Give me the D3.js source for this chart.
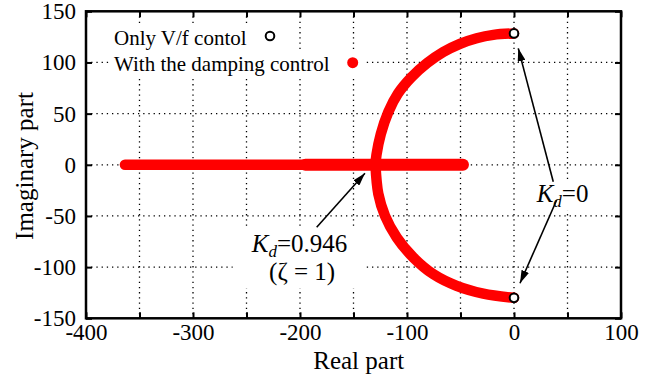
<!DOCTYPE html>
<html>
<head>
<meta charset="utf-8">
<script src="https://cdn.jsdelivr.net/npm/d3@7"></script>
<style>
body { margin: 0; background: #fff; }
svg, svg text { font-family: "Liberation Serif", "Times New Roman", serif; }
</style>
</head>
<body>
<svg width="662" height="378"></svg>
<script>
// locus points (real, imaginary)
const upperRe = [0, -19.3, -34.9, -50.5, -66.1, -81, -96, -108.5, -117.5, -124.5, -128.5, -129.5];
const upperIm = [128.4, 127, 123.7, 118.2, 110.2, 99.5, 85.4, 69.5, 51.5, 30, 10, 0];
const lowerRe = [-129.5, -126.8, -120.6, -109.6, -94.1, -75.4, -53.6, -28.7, 0];
const lowerIm = [0, -28.4, -49.7, -71, -90.6, -106.9, -118.3, -125.9, -130];
// real axis branch, split where the trace gets a bit thicker
const axisLeftRe = [-363.6, -195];
const axisRightRe = [-195, -47.7];
// open circles: Kd = 0
const startRe = [0, 0];
const startIm = [128.4, -130];

// ticks
const xTicks = [-400, -350, -300, -250, -200, -150, -100, -50, 0, 50, 100];
const yTicks = [-150, -100, -50, 0, 50, 100, 150];
const xGrid = [-350, -300, -250, -200, -150, -100, -50, 0, 50];
const yGrid = [-100, -50, 0, 50, 100];

const legendLabels = ['Only V/f contol', 'With the damping control'];

const svg = d3.select('svg');
const plot = {left: 86, top: 11.3, right: 621, bottom: 318.3};

const x = d3.scaleLinear().domain([-400, 100]).range([plot.left, plot.right]);
const y = d3.scaleLinear().domain([-150, 150]).range([plot.bottom, plot.top]);

// arrow head
svg.append('defs').append('marker')
    .attr('id', 'head')
    .attr('viewBox', '0 0 13 8')
    .attr('refX', 13).attr('refY', 4)
    .attr('markerWidth', 13).attr('markerHeight', 8)
    .attr('markerUnits', 'userSpaceOnUse')
    .attr('orient', 'auto')
    .append('path')
    .attr('d', 'M0,0 L13,4 L0,8 Z')
    .attr('fill', '#000');

// dotted grid
const gridG = svg.append('g')
    .attr('stroke', '#000')
    .attr('stroke-width', 1.3)
    .attr('stroke-dasharray', '1.3,3.9');
gridG.selectAll('line.gx').data(xGrid).join('line')
    .attr('class', 'gx')
    .attr('x1', d => x(d)).attr('x2', d => x(d))
    .attr('y1', plot.top).attr('y2', plot.bottom);
gridG.selectAll('line.gy').data(yGrid).join('line')
    .attr('class', 'gy')
    .attr('x1', plot.left).attr('x2', plot.right)
    .attr('y1', d => y(d)).attr('y2', d => y(d));

// white box behind a group of texts
function boxed(g, padX, padY) {
    const b = g.node().getBBox();
    g.insert('rect', ':first-child')
        .attr('x', b.x - padX).attr('y', b.y - padY)
        .attr('width', b.width + 2 * padX).attr('height', b.height + 2 * padY)
        .attr('fill', '#fff');
}

// legend
const leg1 = svg.append('g');
leg1.append('text').attr('x', 114).attr('y', 45)
    .attr('font-size', 21).text(legendLabels[0]);
leg1.append('circle').attr('cx', 270).attr('cy', 36).attr('r', 4.3)
    .attr('fill', '#fff').attr('stroke', '#000').attr('stroke-width', 2);
boxed(leg1, 5, 1);

const leg2 = svg.append('g');
leg2.append('text').attr('x', 114).attr('y', 71)
    .attr('font-size', 21).text(legendLabels[1]);
leg2.append('circle').attr('cx', 352.7).attr('cy', 62.7).attr('r', 5.5)
    .attr('fill', '#f00');
boxed(leg2, 5, 1);

// annotations
const note1 = svg.append('g').attr('font-size', 25);
const t1 = note1.append('text').attr('x', x(-245.1)).attr('y', y(-84.9));
t1.append('tspan').attr('font-style', 'italic').text('K');
t1.append('tspan').attr('font-style', 'italic').attr('font-size', 17).attr('dy', 5).text('d');
t1.append('tspan').attr('dy', -5).text('=0.946');
note1.append('text').attr('x', x(-198)).attr('y', y(-112.6))
    .attr('text-anchor', 'middle').text('(ζ = 1)');
boxed(note1, 18, 2);

const note2 = svg.append('g').attr('font-size', 25);
const t2 = note2.append('text').attr('x', x(21.2)).attr('y', y(-36));
t2.append('tspan').attr('font-style', 'italic').text('K');
t2.append('tspan').attr('font-style', 'italic').attr('font-size', 17).attr('dy', 5).text('d');
t2.append('tspan').attr('dy', -5).text('=0');
boxed(note2, 3, 0);

// root locus
const line = d3.line().x(d => x(d[0])).y(d => y(d[1])).curve(d3.curveCatmullRom);
const locusG = svg.append('g')
    .attr('fill', 'none').attr('stroke', '#f00')
    .attr('stroke-linecap', 'round').attr('stroke-linejoin', 'round');
locusG.append('path')
    .attr('d', line(d3.zip(upperRe, upperIm)))
    .attr('stroke-width', 10.5);
locusG.append('path')
    .attr('d', line(d3.zip(lowerRe, lowerIm)))
    .attr('stroke-width', 10.5);
locusG.append('path')
    .attr('d', line(axisLeftRe.map(r => [r, 0])))
    .attr('stroke-width', 10.5);
locusG.append('path')
    .attr('d', line(axisRightRe.map(r => [r, 0])))
    .attr('stroke-width', 12);

svg.append('g').selectAll('circle').data(d3.zip(startRe, startIm)).join('circle')
    .attr('cx', d => x(d[0])).attr('cy', d => y(d[1])).attr('r', 4.3)
    .attr('fill', '#fff').attr('stroke', '#000').attr('stroke-width', 2);

// arrows: [tailRe, tailIm, tipRe, tipIm]
const arrows = [
    [-184.4, -61.1, -139.3, -8.3],
    [36.7, -16.5, 4, 113.8],
    [39.9, -34.4, 5.6, -115.8]
];
svg.append('g').selectAll('line').data(arrows).join('line')
    .attr('x1', d => x(d[0])).attr('y1', d => y(d[1]))
    .attr('x2', d => x(d[2])).attr('y2', d => y(d[3]))
    .attr('stroke', '#000').attr('stroke-width', 1.6)
    .attr('marker-end', 'url(#head)');

// axes with inward ticks
function styleAxis(g) {
    g.attr('font-family', null).attr('font-size', null);
    g.select('.domain').remove();
    g.selectAll('.tick line').attr('stroke', '#000').attr('stroke-width', 2);
    g.selectAll('.tick text').attr('font-size', 23).attr('fill', '#000');
}
const xLabel = d => (d % 100 === 0 ? String(d) : '');

svg.append('g').attr('transform', `translate(0,${plot.bottom})`)
    .call(d3.axisBottom(x).tickValues(xTicks).tickSize(-6).tickPadding(5).tickFormat(xLabel))
    .call(styleAxis);
svg.append('g').attr('transform', `translate(0,${plot.top})`)
    .call(d3.axisTop(x).tickValues(xTicks).tickSize(-6).tickFormat(''))
    .call(styleAxis);
svg.append('g').attr('transform', `translate(${plot.left},0)`)
    .call(d3.axisLeft(y).tickValues(yTicks).tickSize(-6).tickPadding(10).tickFormat(d => String(d)))
    .call(styleAxis);
svg.append('g').attr('transform', `translate(${plot.right},0)`)
    .call(d3.axisRight(y).tickValues(yTicks).tickSize(-6).tickFormat(''))
    .call(styleAxis);

// border
svg.append('rect')
    .attr('x', plot.left).attr('y', plot.top)
    .attr('width', plot.right - plot.left).attr('height', plot.bottom - plot.top)
    .attr('fill', 'none').attr('stroke', '#000').attr('stroke-width', 2.5);

// axis titles
svg.append('text').attr('x', 358.7).attr('y', 369)
    .attr('text-anchor', 'middle').attr('font-size', 25).text('Real part');
svg.append('text').attr('transform', 'translate(33,166) rotate(-90)')
    .attr('text-anchor', 'middle').attr('font-size', 25).text('Imaginary part');
</script>
</body>
</html>
